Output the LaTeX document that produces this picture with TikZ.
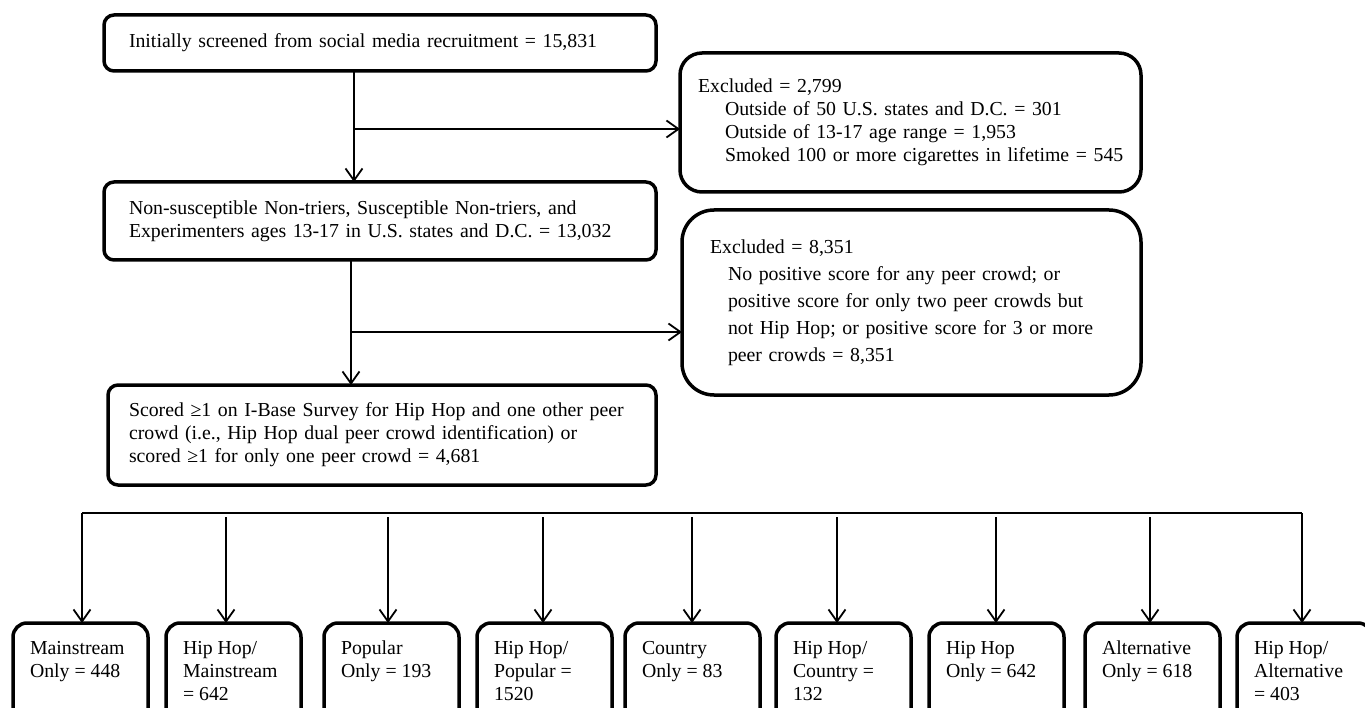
\documentclass[tikz,border=0pt]{standalone}
\usepackage{fontspec}
\setmainfont{Liberation Serif}
\usetikzlibrary{arrows.meta,calc}
\begin{document}
\begin{tikzpicture}[x=1pt,y=-1pt,
  every node/.style={font=\fontsize{19.8}{23}\selectfont, outer sep=0pt},
  boxbase/.style={draw, line width=3.5pt, anchor=north west, align=left, inner ysep=0pt},
  mainbox/.style={boxbase, rounded corners=10pt},
  crowdbox/.style={draw, line width=3.5pt, rounded corners=14pt, anchor=north west, inner xsep=17pt, inner ysep=15pt},
  conn/.style={line width=1.8pt},
  arr/.style={conn, -{Straight Barb[length=12pt,width=17pt]}}
]
\useasboundingbox (0,0) rectangle (1365,708);
\clip (0,0) rectangle (1365,708);

% main column
\node[mainbox, inner xsep=25pt, text width=502pt, minimum height=56pt] (top) at (104,15)
  {\mbox{Initially screened from social media recruitment = 15,831}};
\node[mainbox, inner xsep=25pt, text width=502pt, minimum height=78pt] (mid) at (104,182)
  {\mbox{Non-susceptible Non-triers, Susceptible Non-triers, and}\\
   \mbox{Experimenters ages 13-17 in U.S. states and D.C. = 13,032}};
\node[mainbox, inner xsep=21pt, text width=506pt, minimum height=100pt] (sel) at (108,385)
  {\mbox{Scored ≥1 on I-Base Survey for Hip Hop and one other peer}\\
   \mbox{crowd (i.e., Hip Hop dual peer crowd identification) or}\\
   \mbox{scored ≥1 for only one peer crowd = 4,681}};

% exclusion boxes
\node[boxbase, rounded corners=22pt, inner xsep=18pt, text width=425pt, minimum height=139pt] (ex1) at (680,53)
  {\mbox{Excluded = 2,799}\\
   \mbox{\hspace*{27pt}Outside of 50 U.S. states and D.C. = 301}\\
   \mbox{\hspace*{27pt}Outside of 13-17 age range = 1,953}\\
   \mbox{\hspace*{27pt}Smoked 100 or more cigarettes in lifetime = 545}};
\node[boxbase, rounded corners=32pt, inner xsep=28pt, text width=403pt, minimum height=185pt,
      font=\fontsize{19.8}{27}\selectfont] (ex2) at (682,210)
  {\mbox{Excluded = 8,351}\\
   \mbox{\hspace*{18pt}No positive score for any peer crowd; or}\\
   \mbox{\hspace*{18pt}positive score for only two peer crowds but}\\
   \mbox{\hspace*{18pt}not Hip Hop; or positive score for 3 or more}\\
   \mbox{\hspace*{18pt}peer crowds = 8,351}};

% connectors of the main column
\coordinate (c1) at (354,0);
\coordinate (br1) at (354,129);
\draw[arr] (top.south -| c1) -- (mid.north -| c1);
\draw[arr] (br1) -- (br1 -| ex1.west);
\coordinate (c2) at (351,0);
\coordinate (br2) at (351,332);
\draw[arr] (mid.south -| c2) -- (sel.north -| c2);
\draw[arr] (br2) -- (br2 -| ex2.west);

% crowd boxes
\newcommand{\crowd}[3]{\node[crowdbox] (#1) at (#2,623)
  {\parbox[t][95pt][t]{101pt}{\raggedright\strut #3}};}
\crowd{b1}{13}{Mainstream\\Only = 448}
\crowd{b2}{166}{Hip Hop/\\Mainstream\\= 642}
\crowd{b3}{324}{Popular\\Only = 193}
\crowd{b4}{477}{Hip Hop/\\Popular =\\1520}
\crowd{b5}{625}{Country\\Only = 83}
\crowd{b6}{776}{Hip Hop/\\Country =\\132}
\crowd{b7}{929}{Hip Hop\\Only = 642}
\crowd{b8}{1085}{Alternative\\Only = 618}
\crowd{b9}{1237}{Hip Hop/\\Alternative\\= 403}

% distribution bus
\coordinate (busL) at (82,513);
\coordinate (busR) at (1302,513);
\draw[conn] (busL) -- (busR);
\draw[arr] (busL) -- (busL |- b1.north);
\draw[arr] (busR) -- (busR |- b9.north);
\coordinate (a2) at (226,517);
\coordinate (a3) at (388,517);
\coordinate (a4) at (543,517);
\coordinate (a5) at (692,517);
\coordinate (a6) at (837,517);
\coordinate (a7) at (996,517);
\coordinate (a8) at (1150,517);
\foreach \i in {2,...,8} {\draw[arr] (a\i) -- (a\i |- b\i.north);}
\end{tikzpicture}
\end{document}
